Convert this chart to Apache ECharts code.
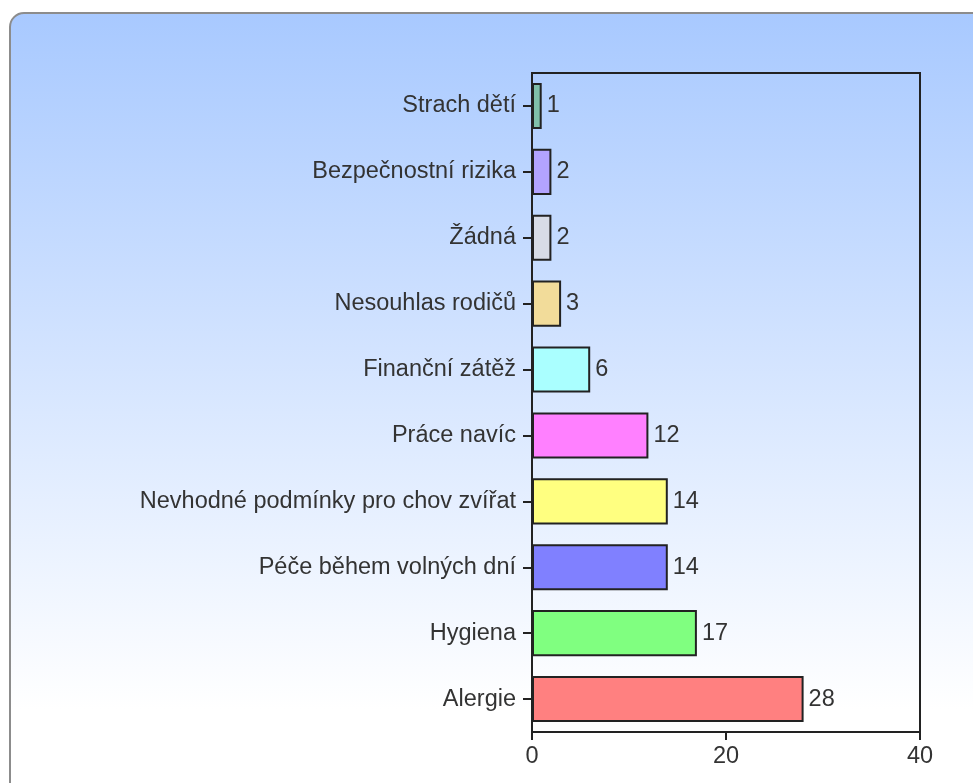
<!DOCTYPE html>
<html>
<head>
<meta charset="utf-8">
<script src="https://cdn.jsdelivr.net/npm/echarts@6/dist/echarts.min.js"></script>
<style>
html,body{margin:0;padding:0;background:#fff;}
#chart{width:973px;height:783px;}
</style>
</head>
<body>
<div id="chart"></div>
<script>
const categories = ["Strach dětí","Bezpečnostní rizika","Žádná","Nesouhlas rodičů","Finanční zátěž","Práce navíc","Nevhodné podmínky pro chov zvířat","Péče během volných dní","Hygiena","Alergie"];
const values = [1,2,2,3,6,12,14,14,17,28];
const barColors = ["#80c0aa","#b3a3ff","#d8dce6","#f2dc9a","#aaffff","#ff80ff","#ffff80","#8080ff","#80ff80","#ff8080"];
const xTicks = [0,20,40];

const chart = echarts.init(document.getElementById('chart'), null, {renderer:'canvas'});
const font = "Liberation Sans, Arial, sans-serif";
const fs = 23.5;
chart.setOption({
  animation:false,
  graphic:[{
    type:'rect', z:-10, silent:true,
    shape:{x:10,y:13,width:1000,height:790,r:14},
    style:{
      fill:new echarts.graphic.LinearGradient(0,0,0,1,[
        {offset:0,color:'#a8c9ff'},
        {offset:0.88,color:'#ffffff'},
        {offset:1,color:'#ffffff'}
      ]),
      stroke:'#8c8c8c', lineWidth:2
    }
  }],
  grid:{left:532,right:53,top:73,bottom:51,show:true,borderColor:'#222',borderWidth:2,backgroundColor:'transparent'},
  xAxis:{
    type:'value', min:0, max:40, interval:20,
    axisLine:{show:true,lineStyle:{color:'#222',width:2}},
    axisTick:{show:true,length:8,lineStyle:{color:'#222',width:2}},
    splitLine:{show:false},
    axisLabel:{color:'#333',fontSize:fs,fontFamily:font,margin:13,
      formatter:function(v){return xTicks.indexOf(v)>=0?String(v):'';}}
  },
  yAxis:{
    type:'category', data:categories, inverse:true,
    axisLine:{show:true,lineStyle:{color:'#222',width:2}},
    axisTick:{show:true,alignWithLabel:true,length:9,lineStyle:{color:'#222',width:2}},
    axisLabel:{color:'#333',fontSize:fs,fontFamily:font,margin:16}
  },
  series:[{
    type:'bar',
    data:values.map((v,i)=>({value:v,itemStyle:{color:barColors[i]}})),
    barWidth:'70%',
    itemStyle:{borderColor:'#222',borderWidth:2},
    label:{show:true,position:'right',distance:5,color:'#333',fontSize:fs,fontFamily:font}
  }]
});
</script>
</body>
</html>
